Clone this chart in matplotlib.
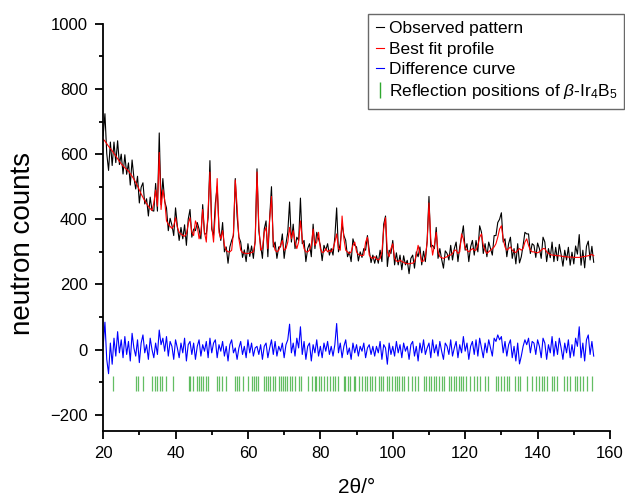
import numpy as np
import matplotlib
matplotlib.use("Agg")
from matplotlib import pyplot as plt
from matplotlib.lines import Line2D

plt.rcParams['font.family'] = ['Liberation Sans', 'DejaVu Sans']
plt.rcParams['mathtext.fontset'] = 'custom'
plt.rcParams['mathtext.rm'] = 'Liberation Sans'
plt.rcParams['mathtext.it'] = 'Liberation Sans:italic'

# step of the pattern in 2theta (degrees), starts at 20
start = 20.0
step = 0.5

# best fit profile (calc), every 0.5 deg
calc = [646, 640, 632, 624, 617, 610, 602, 594, 586, 578,
        570, 564, 558, 553, 548, 540, 532, 523, 513, 502,
        490, 478, 467, 457, 448, 440, 433, 427, 450, 490,
        440, 605, 430, 490, 460, 395, 385, 378, 372, 380,
        405, 375, 360, 355, 350, 348, 355, 385, 405, 360,
        350, 395, 380, 340, 360, 430, 360, 330, 430, 545,
        380, 330, 420, 525, 360, 340, 365, 320, 305, 300,
        300, 305, 360, 520, 440, 340, 305, 298, 296, 295,
        295, 296, 298, 300, 330, 545, 380, 305, 310, 360,
        375, 310, 400, 470, 330, 305, 300, 305, 320, 335,
        305, 310, 330, 375, 340, 365, 330, 310, 330, 395,
        340, 310, 300, 300, 305, 320, 370, 320, 330, 360,
        310, 298, 300, 310, 300, 305, 300, 310, 330, 355,
        310, 305, 410, 340, 305, 300, 295, 300, 320, 330,
        300, 292, 290, 288, 290, 330, 345, 290, 282, 280,
        285, 278, 275, 280, 300, 370, 405, 300, 285, 310,
        325, 280, 272, 270, 275, 270, 268, 265, 264, 263,
        265, 265, 270, 290, 320, 295, 270, 272, 285, 330,
        450, 340, 290, 320, 360, 300, 285, 282, 280, 283,
        285, 290, 290, 295, 305, 305, 295, 300, 355, 340,
        310, 305, 300, 305, 310, 305, 305, 320, 345, 355,
        320, 305, 295, 300, 305, 310, 315, 325, 345, 370,
        380, 340, 315, 305, 310, 315, 305, 300, 298, 305,
        310, 305, 310, 330, 340, 320, 305, 300, 300, 298,
        297, 300, 305, 310, 310, 300, 295, 292, 290, 290,
        289, 288, 288, 287, 286, 285, 285, 284, 284, 284,
        283, 283, 283, 283, 284, 285, 286, 287, 288, 290,
        292, 288]

# difference curve (obs - calc), same steps
diff = [10, 84, -30, -74, 20, -45, 35, -20, 55, -10,
        30, -25, 40, -15, 25, -35, 50, 5, -20, 30,
        -40, 20, 45, -10, 15, -30, 35, 0, -25, 20,
        -15, 60, 15, 35, -5, 40, -20, 25, 10, -30,
        30, 5, -25, 20, -10, 35, -35, 15, 25, -15,
        20, -30, 10, 30, -20, 15, -5, 25, -25, 35,
        -10, 20, 30, -25, 15, -5, 25, -20, 10, -35,
        15, 30, -10, 5, -30, 5, 25, -15, 10, -25,
        30, -10, 20, -20, 5, 10, -15, 15, -30, 10,
        20, -25, 5, 30, -15, 25, -20, 10, -5, 20,
        -25, 15, 30, 78, -10, 20, -20, 35, 5, 70,
        -15, 25, -30, 10, 20, -35, 15, -10, 30, -20,
        10, -25, 20, -5, 25, -15, 10, -20, 15, 80,
        -10, 20, -25, 10, 30, -15, 5, -30, 20, -10,
        15, -20, 10, -5, 20, -25, 5, 15, -15, 10,
        -20, 10, -10, 25, -30, 15, 5, -45, 20, -15,
        10, -20, 25, -10, 15, -25, 20, -5, 10, -30,
        15, 25, -20, 10, -35, 20, -10, 30, -15, 5,
        20, -25, 30, -10, 15, -20, 25, -5, -30, 20,
        10, -15, 30, -20, 5, 25, -25, 15, -10, 40,
        -5, 20, -30, 10, 25, -15, 30, -20, 35, 5,
        -25, 20, -10, 30, 5, -20, 35, 25, 45, 30,
        40, -10, 25, -20, 15, 30, -25, 10, -35, 20,
        -44, -20, 10, 30, 15, 35, -10, 25, 20, -15,
        30, 10, -25, 35, 20, -30, 15, -10, 40, -20,
        25, -15, 35, 5, -30, 20, -10, 30, -25, 15,
        -20, 35, 10, 70, -25, 20, -35, 30, 45, -15,
        25, -20]

# reflection positions of beta-Ir4B5 (2theta)
refl = [22.6, 29.1, 29.6, 31.1, 33.6, 34.2, 34.8, 35.6, 36.2, 37.4, 39.4,
        43.6, 44.0, 44.8, 45.9, 46.6, 47.1, 47.7, 48.5, 49.1, 51.4, 52.0,
        52.8, 53.9, 56.3, 56.9, 57.6, 58.6, 60.1, 61.1, 61.7, 62.3, 62.9,
        64.3, 65.0, 65.6, 66.1, 66.8, 67.5, 68.6, 69.2, 69.8, 70.3, 70.7,
        71.7, 72.3, 73.0, 74.0, 74.7, 76.5, 77.6, 78.4, 78.8, 79.5, 80.2,
        81.1, 81.8, 82.7, 83.4, 84.1, 85.0, 86.4, 86.8, 87.6, 88.2, 89.2,
        89.6, 90.7, 91.5, 92.2, 92.8, 93.8, 94.4, 95.1, 96.1, 96.8, 97.4,
        98.4, 99.0, 99.7, 100.7, 101.1, 101.8, 102.5, 103.2, 104.3, 105.3,
        106.2, 106.9, 108.5, 109.1, 109.9, 110.6, 111.3, 112.0, 112.9,
        113.6, 114.2, 115.4, 116.0, 116.8, 117.5, 118.2, 118.8, 119.5,
        120.3, 121.2, 122.3, 123.2, 124.1, 125.5, 126.2, 128.6, 129.2,
        129.9, 130.6, 131.5, 132.2, 133.8, 134.5, 135.2, 137.0, 138.4,
        139.6, 140.5, 141.2, 141.8, 142.6, 143.9, 144.6, 145.3, 147.3,
        148.1, 149.0, 150.4, 151.0, 151.8, 152.5, 153.6, 155.0]

calc = np.array(calc, dtype=float)
diff = np.array(diff, dtype=float)
tt = start + step * np.arange(len(calc))
obs = calc + diff

fig = plt.figure(figsize=(6.25, 4.96), dpi=100)
ax = fig.add_axes([0.165, 0.131, 0.811, 0.821])

ax.plot(tt, obs, color='black', lw=0.8)
ax.plot(tt, calc, color='red', lw=0.8)
ax.plot(tt, diff, color='blue', lw=0.8)
ax.vlines(refl, -128, -82, color='#2fa82f', lw=0.9, alpha=0.75)

ax.set_xlim(20, 160)
ax.set_ylim(-250, 1000)
ax.set_xticks(np.arange(20, 161, 20))
ax.set_xticks(np.arange(30, 160, 20), minor=True)
ax.set_yticks(np.arange(-200, 1001, 200))
ax.set_yticks(np.arange(-100, 1000, 200), minor=True)

ax.spines['top'].set_visible(False)
ax.spines['right'].set_visible(False)
ax.spines['left'].set_linewidth(1.3)
ax.spines['bottom'].set_linewidth(1.3)
ax.tick_params(which='major', direction='out', length=6, width=1.3, labelsize=12, pad=5)
ax.tick_params(which='minor', direction='out', length=3, width=1.3)

ax.set_xlabel('2θ/°', fontsize=15, labelpad=12)
ax.set_ylabel('neutron counts', fontsize=20)
ax.yaxis.set_label_coords(-0.133, 0.46)

# legend
handles = [Line2D([], [], color='black', lw=0.8),
           Line2D([], [], color='red', lw=0.8),
           Line2D([], [], color='blue', lw=0.8),
           Line2D([], [], color='#2fa82f', marker='|', ls='none', markersize=12)]
labels = ['Observed pattern', 'Best fit profile', 'Difference curve',
          r'Reflection positions of $\beta$-Ir$_4$B$_5$']
leg = fig.legend(handles, labels, loc='upper right', bbox_to_anchor=(0.999, 0.972),
                 fontsize=12.5, frameon=True, fancybox=False, edgecolor='#444444',
                 handlelength=0.5, handletextpad=0.25, labelspacing=0.3,
                 borderaxespad=0, borderpad=0.42)
leg.get_frame().set_linewidth(1.0)

fig.savefig('out.png', dpi=100)
